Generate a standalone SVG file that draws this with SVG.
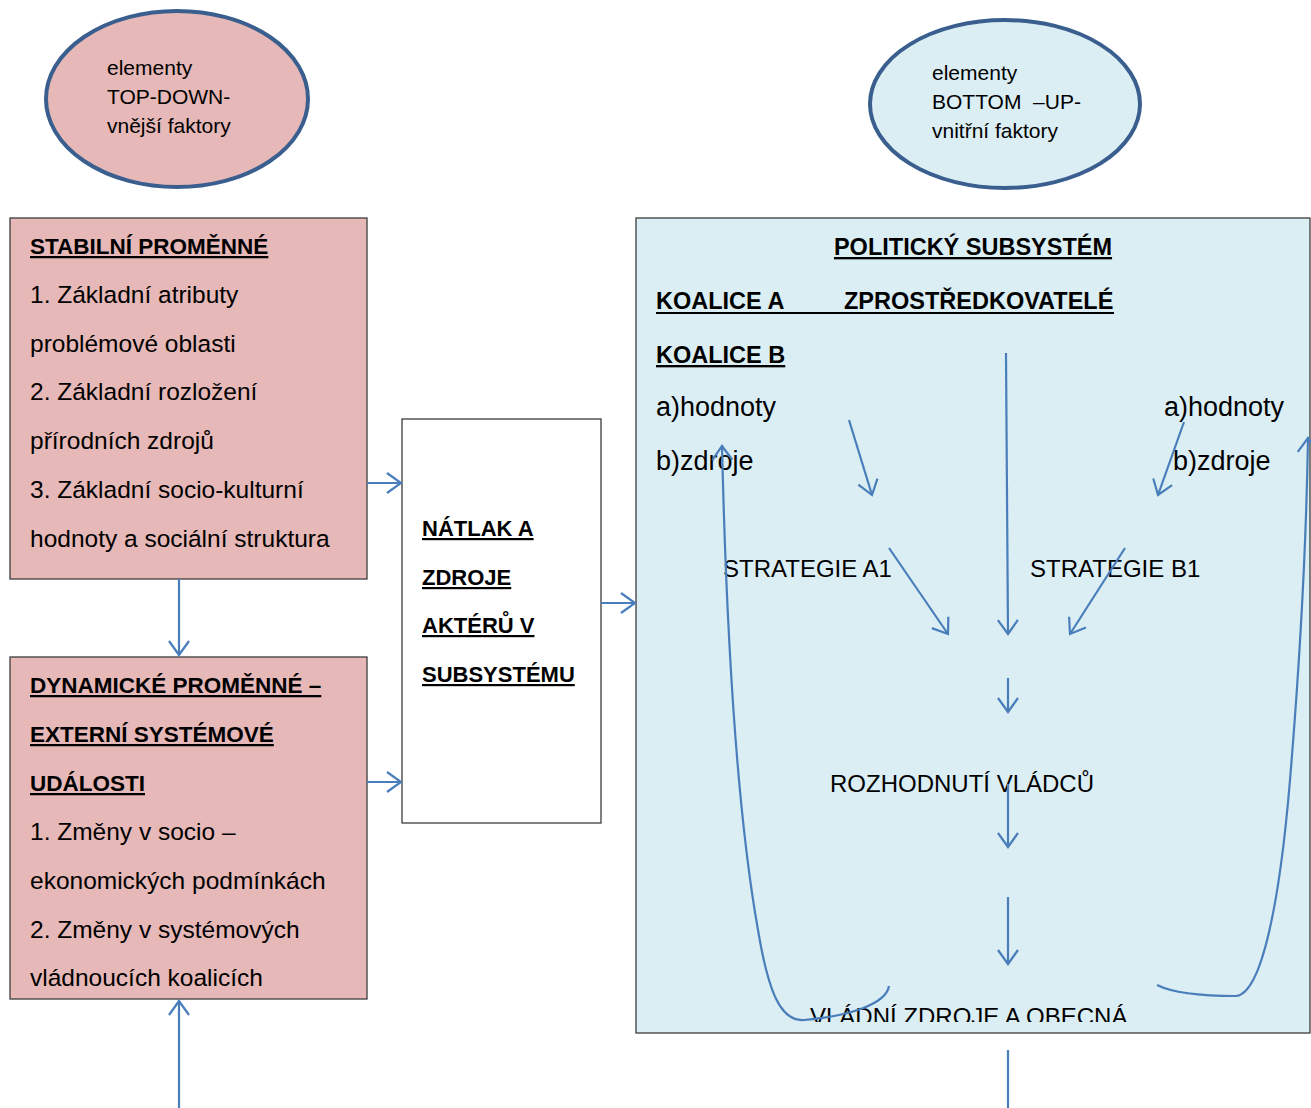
<svg xmlns="http://www.w3.org/2000/svg" width="1311" height="1108" viewBox="0 0 1311 1108">
<style>
text{font-family:"Liberation Sans","Open Sans",Arial,sans-serif;fill:#000}
.t{font-size:24.5px}
.tb{font-size:22.5px;font-weight:bold;text-decoration:underline}
.nb{font-size:22px;font-weight:bold;text-decoration:underline}
.s{font-size:21px}
.lc{font-size:27px}
.uc{font-size:24px}
.bigb{font-size:23.5px;font-weight:bold;text-decoration:underline}
.bign{font-size:23.5px;font-weight:bold}
.pink{fill:#e6b8b7;stroke:#3c3c3c;stroke-width:1.3}
.blue{fill:#dbeef4;stroke:#3c3c3c;stroke-width:1.3}
.ell{stroke:#3a5f8f;stroke-width:4}
.c{fill:none;stroke:#4a7ebb;stroke-width:2.2}
</style>
<defs>
<marker id="ah" markerUnits="userSpaceOnUse" markerWidth="30" markerHeight="30" refX="15" refY="15" orient="auto" viewBox="0 0 30 30">
<path d="M1,5 L15,15 L1,25" fill="none" stroke="#4a7ebb" stroke-width="2.2"/>
</marker>
<clipPath id="clipBox"><rect x="636" y="218" width="674" height="804"/></clipPath>
</defs>

<g id="ellipse-topdown">
<ellipse class="ell" cx="177" cy="99" rx="131" ry="88" fill="#e6b8b7"/>
<text class="s" x="107" y="75">elementy</text>
<text class="s" x="107" y="104">TOP-DOWN-</text>
<text class="s" x="107" y="133">vnější faktory</text>
</g>

<g id="ellipse-bottomup">
<ellipse class="ell" cx="1005" cy="104" rx="135" ry="84" fill="#dbeef4"/>
<text class="s" x="932" y="80">elementy</text>
<text class="s" x="932" y="109" xml:space="preserve">BOTTOM  –UP-</text>
<text class="s" x="932" y="138">vnitřní faktory</text>
</g>

<g id="stabilni">
<rect class="pink" x="10" y="218" width="357" height="361"/>
<text class="tb" x="30" y="254">STABILNÍ PROMĚNNÉ</text>
<text class="t" x="30" y="303">1. Základní atributy</text>
<text class="t" x="30" y="352">problémové oblasti</text>
<text class="t" x="30" y="400">2. Základní rozložení</text>
<text class="t" x="30" y="449">přírodních zdrojů</text>
<text class="t" x="30" y="498">3. Základní socio-kulturní</text>
<text class="t" x="30" y="547">hodnoty a sociální struktura</text>
</g>

<g id="dynamicke">
<rect class="pink" x="10" y="657" width="357" height="342"/>
<text class="tb" x="30" y="693">DYNAMICKÉ PROMĚNNÉ –</text>
<text class="tb" x="30" y="742">EXTERNÍ SYSTÉMOVÉ</text>
<text class="tb" x="30" y="791">UDÁLOSTI</text>
<text class="t" x="30" y="840">1. Změny v socio –</text>
<text class="t" x="30" y="889">ekonomických podmínkách</text>
<text class="t" x="30" y="938">2. Změny v systémových</text>
<text class="t" x="30" y="986">vládnoucích koalicích</text>
</g>

<g id="natlak">
<rect x="402" y="419" width="199" height="404" fill="#fff" stroke="#3c3c3c" stroke-width="1.3"/>
<text class="nb" x="422" y="536">NÁTLAK A</text>
<text class="nb" x="422" y="585">ZDROJE</text>
<text class="nb" x="422" y="633">AKTÉRŮ V</text>
<text class="nb" x="422" y="682">SUBSYSTÉMU</text>
</g>

<g id="politicky-subsystem">
<rect class="blue" x="636" y="218" width="674" height="815"/>
<text class="bigb" x="973" y="255" text-anchor="middle">POLITICKÝ SUBSYSTÉM</text>
<text class="bign" x="656" y="309">KOALICE A</text>
<text class="bign" x="844" y="309">ZPROSTŘEDKOVATELÉ</text>
<line x1="656" y1="313" x2="1114" y2="313" stroke="#000" stroke-width="2"/>
<text class="bigb" x="656" y="363">KOALICE B</text>
<text class="lc" x="656" y="416">a)hodnoty</text>
<text class="lc" x="656" y="470">b)zdroje</text>
<text class="lc" x="1164" y="416">a)hodnoty</text>
<text class="lc" x="1173" y="470">b)zdroje</text>
<text class="uc" x="723" y="577">STRATEGIE A1</text>
<text class="uc" x="1030" y="577">STRATEGIE B1</text>
<text class="uc" x="830" y="792">ROZHODNUTÍ VLÁDCŮ</text>
<text class="uc" x="810" y="1025" clip-path="url(#clipBox)">VLÁDNÍ ZDROJE A OBECNÁ</text>
</g>

<g id="connectors">
<line class="c" x1="179" y1="579" x2="179" y2="655" marker-end="url(#ah)"/>
<line class="c" x1="179" y1="1108" x2="179" y2="1001" marker-end="url(#ah)"/>
<line class="c" x1="367" y1="483" x2="401" y2="483" marker-end="url(#ah)"/>
<line class="c" x1="367" y1="782" x2="401" y2="782" marker-end="url(#ah)"/>
<line class="c" x1="601" y1="603" x2="635" y2="603" marker-end="url(#ah)"/>
<line class="c" x1="849" y1="420" x2="872" y2="495" marker-end="url(#ah)"/>
<line class="c" x1="1006" y1="353" x2="1008" y2="634" marker-end="url(#ah)"/>
<line class="c" x1="1184" y1="422" x2="1158" y2="495" marker-end="url(#ah)"/>
<line class="c" x1="889" y1="548" x2="948" y2="634" marker-end="url(#ah)"/>
<line class="c" x1="1125" y1="548" x2="1070" y2="634" marker-end="url(#ah)"/>
<line class="c" x1="1008" y1="678" x2="1008" y2="712" marker-end="url(#ah)"/>
<line class="c" x1="1008" y1="784" x2="1008" y2="847" marker-end="url(#ah)"/>
<line class="c" x1="1008" y1="897" x2="1008" y2="964" marker-end="url(#ah)"/>
<line class="c" x1="1008" y1="1050" x2="1008" y2="1108"/>
<path class="c" d="M889,986 C886,1004 850,1016 804,1020 C780,1022 768,990 758,930 C742,840 728,700 722,446" marker-end="url(#ah)"/>
<path class="c" d="M1157,985 C1175,994 1210,996 1236,996 C1262,994 1280,900 1290,780 C1300,660 1306,560 1308,438" marker-end="url(#ah)"/>
</g>
</svg>
